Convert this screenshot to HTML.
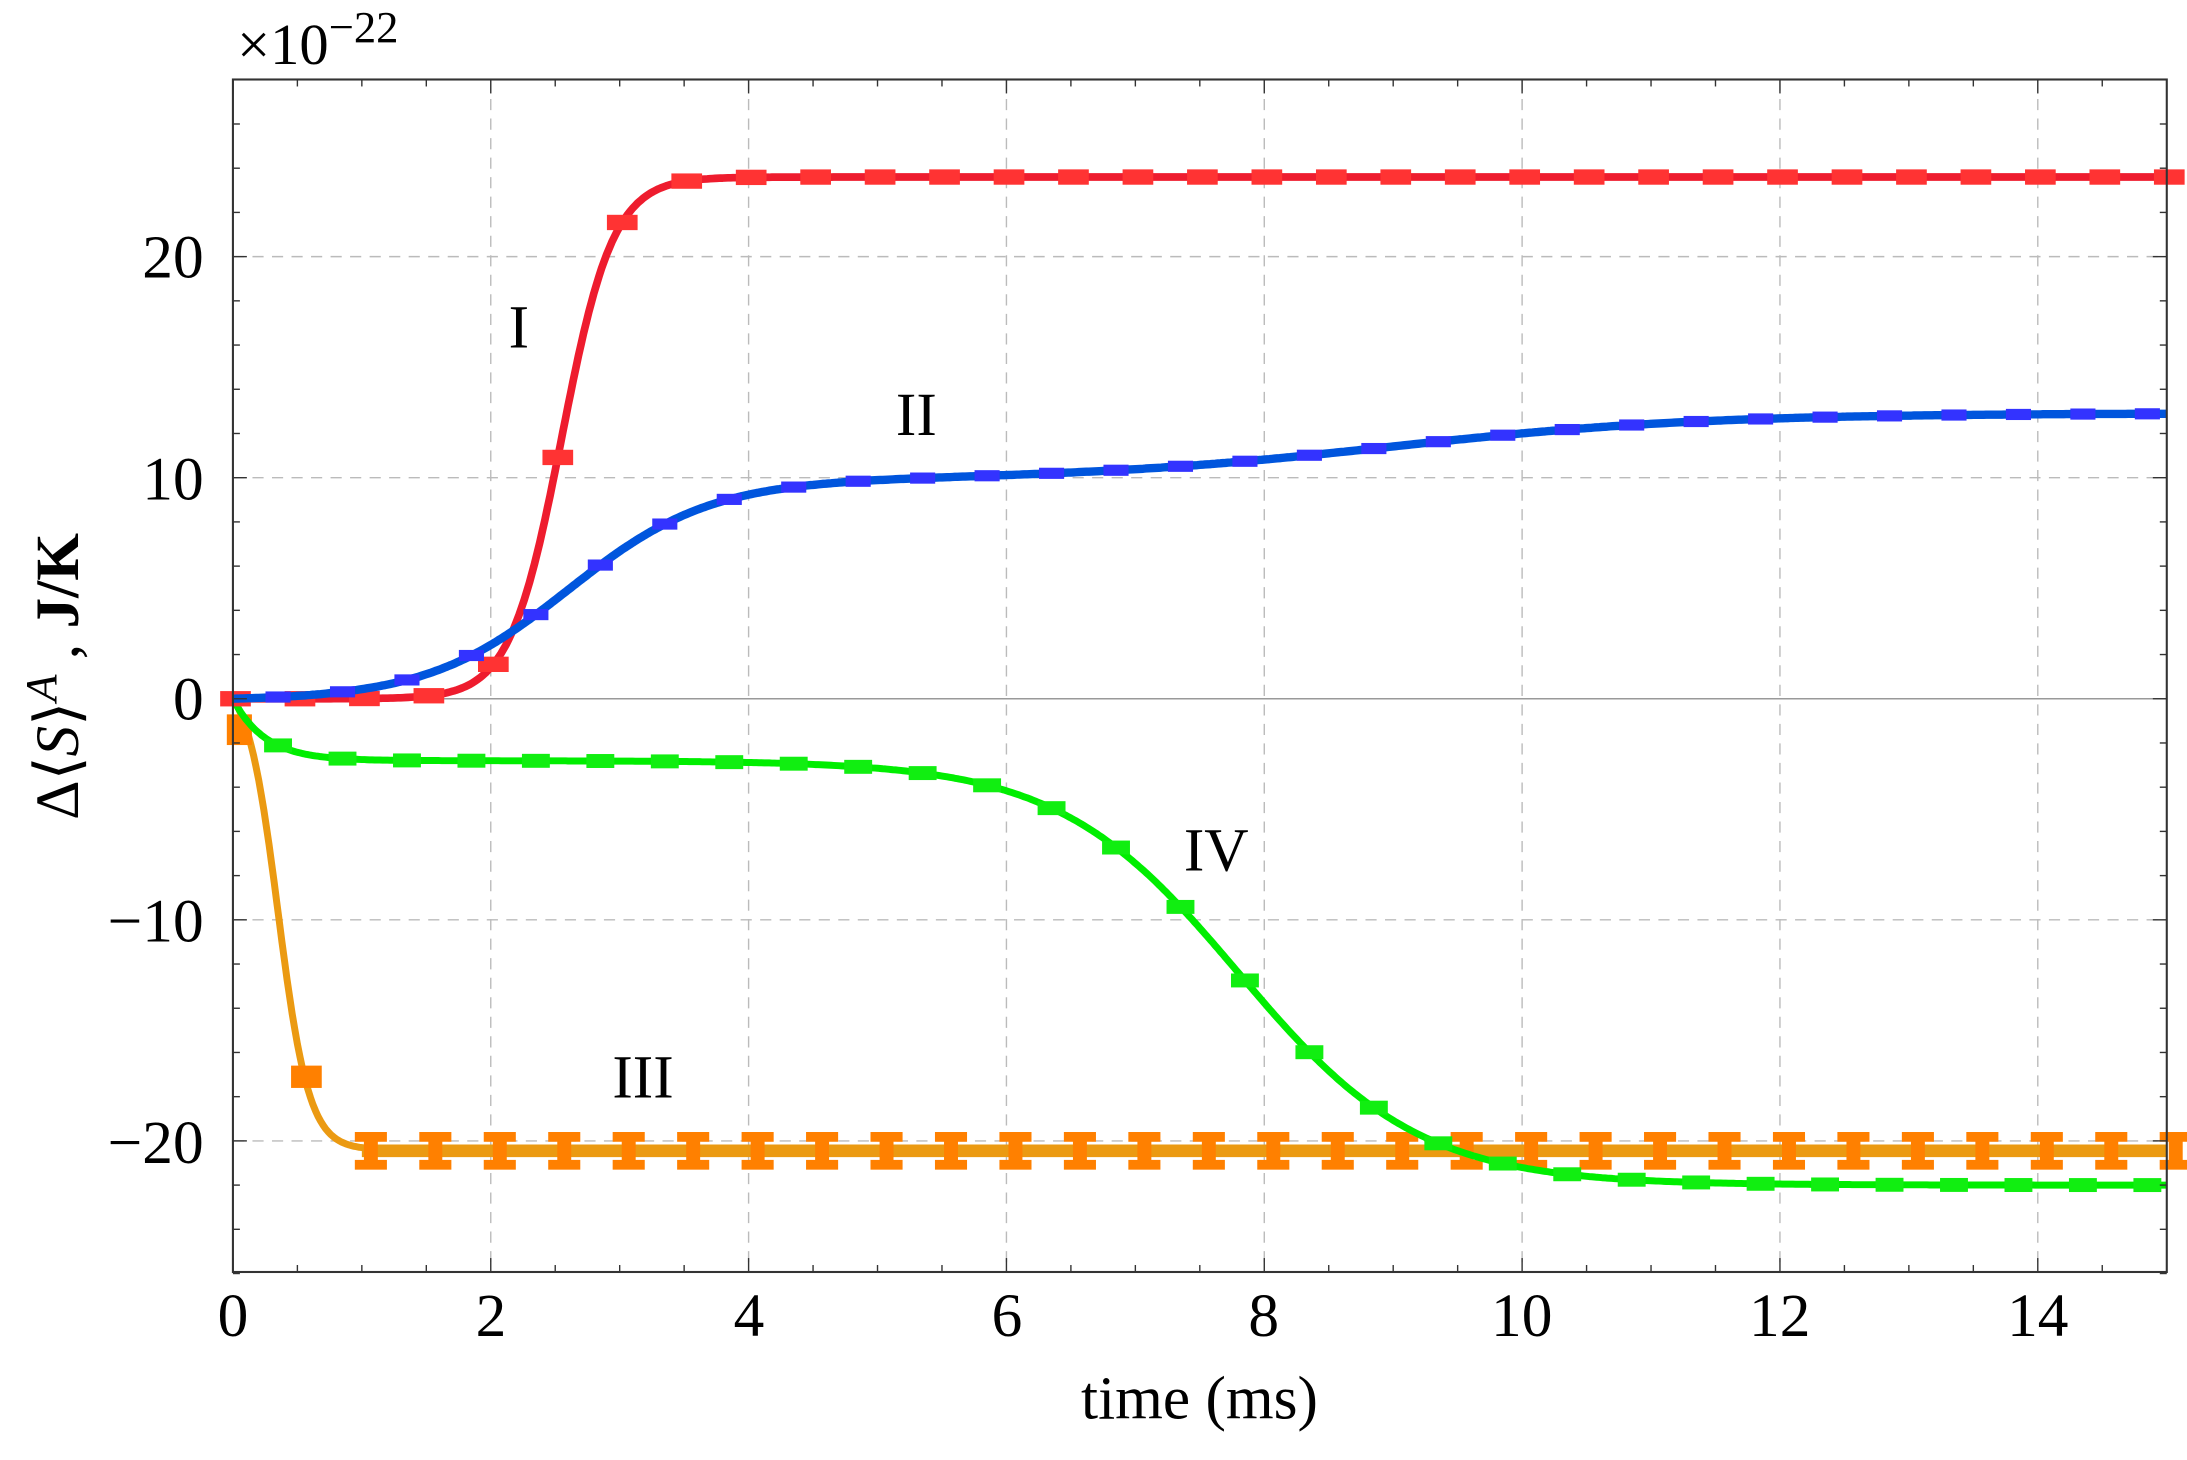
<!DOCTYPE html>
<html><head><meta charset="utf-8"><style>
html,body{margin:0;padding:0;background:#fff;}
svg{display:block;}
text{font-family:"Liberation Serif",serif;fill:#000;}
</style></head><body>
<svg id="s" width="2187" height="1460" viewBox="0 0 1568 1046.8" preserveAspectRatio="none" xmlns="http://www.w3.org/2000/svg">
<g id="grid"></g>
<g id="curves"></g>
<rect x="167" y="57" width="1386.5" height="855" fill="none" stroke="#333" stroke-width="1.5"/>
<g id="ticks"></g>
<g font-size="44">
<text x="167" y="958" text-anchor="middle">0</text>
<text x="352" y="958" text-anchor="middle">2</text>
<text x="537" y="958" text-anchor="middle">4</text>
<text x="722" y="958" text-anchor="middle">6</text>
<text x="906" y="958" text-anchor="middle">8</text>
<text x="1091" y="958" text-anchor="middle">10</text>
<text x="1276" y="958" text-anchor="middle">12</text>
<text x="1461" y="958" text-anchor="middle">14</text>
<text x="146" y="199" text-anchor="end">20</text>
<text x="146" y="358" text-anchor="end">10</text>
<text x="146" y="516" text-anchor="end">0</text>
<text x="146" y="675" text-anchor="end">−10</text>
<text x="146" y="834" text-anchor="end">−20</text>
<text x="860" y="1017" text-anchor="middle">time (ms)</text>
<text x="170" y="46" font-size="42">×10<tspan font-size="32" dy="-16">−22</tspan></text>
<text x="372" y="249" text-anchor="middle">I</text>
<text x="657" y="312" text-anchor="middle">II</text>
<text x="461" y="787" text-anchor="middle">III</text>
<text x="872" y="624" text-anchor="middle">IV</text>
<text transform="translate(56,485) rotate(-90)" text-anchor="middle">Δ⟨<tspan font-style="italic">S</tspan>⟩<tspan font-style="italic" font-size="32" dy="-16">A</tspan><tspan dy="16"> , </tspan><tspan font-weight="bold">J/K</tspan></text>
</g>
</svg>
<script>
var NS="http://www.w3.org/2000/svg";
function X(t){return 167+t*92.43;}
function Y(v){return 501-v*15.85;}
function el(p,tag,a){var e=document.createElementNS(NS,tag);for(var k in a)e.setAttribute(k,a[k]);p.appendChild(e);return e;}
var grid=document.getElementById('grid'),cur=document.getElementById('curves'),tk=document.getElementById('ticks');
for(var t=2;t<=14;t+=2)el(grid,'line',{x1:X(t),x2:X(t),y1:57,y2:912,stroke:'#bbb','stroke-width':1,'stroke-dasharray':'8,6'});
[-20,-10,10,20].forEach(function(v){el(grid,'line',{x1:167,x2:1553.5,y1:Y(v),y2:Y(v),stroke:'#bbb','stroke-width':1,'stroke-dasharray':'8,6'});});
el(grid,'line',{x1:167,x2:1553.5,y1:Y(0),y2:Y(0),stroke:'#999','stroke-width':1});
for(var t=0;t<=15.01;t+=0.5){var maj=(Math.abs(t%2)<0.01),L=maj?10:5;
el(tk,'line',{x1:X(t),x2:X(t),y1:912,y2:912-L,stroke:'#333','stroke-width':1});
el(tk,'line',{x1:X(t),x2:X(t),y1:57,y2:57+L,stroke:'#333','stroke-width':1});}
for(var v=-26;v<=28;v+=2){var maj=(v%10==0),L=maj?10:5;
el(tk,'line',{x1:167,x2:167+L,y1:Y(v),y2:Y(v),stroke:'#333','stroke-width':1});
el(tk,'line',{x1:1553.5,x2:1553.5-L,y1:Y(v),y2:Y(v),stroke:'#333','stroke-width':1});}
function sig(t,c,w){return 1/(1+Math.exp(-(t-c)/w));}
var fR=function(t){return 23.6*sig(t,2.55,0.2);};
var fB=function(t){return 10*(sig(t,2.6,0.55)-sig(0,2.6,0.55))+3*sig(t,9,1.2);};
var fG=function(t){return -2.8*(1-Math.exp(-t/0.25))-19.2*(sig(t,7.8,0.7)-sig(0,7.8,0.7));};
var fO=function(t){var a=sig(0,0.35,0.12);return -20.4*(sig(t,0.35,0.12)-a)/(1-a);};
function path(f,col,w){var d='';for(var t=0;t<=15.001;t+=0.02){d+=(d?'L':'M')+X(t).toFixed(1)+','+Y(f(t)).toFixed(1);}
el(cur,'path',{d:d,fill:'none',stroke:col,'stroke-width':w,'stroke-linejoin':'round'});}
function marks(f,col,t0,w,h){for(var t=t0;t<=15.05;t+=0.5){el(cur,'rect',{x:X(t)-w/2,y:Y(f(t))-h/2,width:w,height:h,fill:col});}}
path(fO,'#eb9a12',5);
el(cur,'line',{x1:X(1.0),x2:1553,y1:Y(-20.45),y2:Y(-20.45),stroke:'#eb9a12','stroke-width':9});
for(var t=1.07;t<=15.1;t+=0.5){var x=X(t),y=Y(-20.45);if(x>1560)break;
el(cur,'rect',{x:x-11.5,y:y-13.5,width:23,height:7,fill:'#ff8000'});
el(cur,'rect',{x:x-11.5,y:y+6.5,width:23,height:7,fill:'#ff8000'});
el(cur,'rect',{x:x-5,y:y-7,width:10,height:14,fill:'#ff8000'});}
el(cur,'rect',{x:X(0.05)-9,y:Y(-1.4)-11,width:18,height:22,fill:'#ff8000'});
el(cur,'rect',{x:X(0.57)-11,y:Y(-17.1)-8,width:22,height:16,fill:'#ff8000'});
path(fG,'#00ee00',5);marks(fG,'#11ee11',0.35,20,10);
path(fR,'#ee1c2e',5.5);marks(fR,'#ff3333',0.02,22,11);
path(fB,'#0055dd',6);marks(fB,'#3333ff',0.35,18,8);
</script>
</body></html>
